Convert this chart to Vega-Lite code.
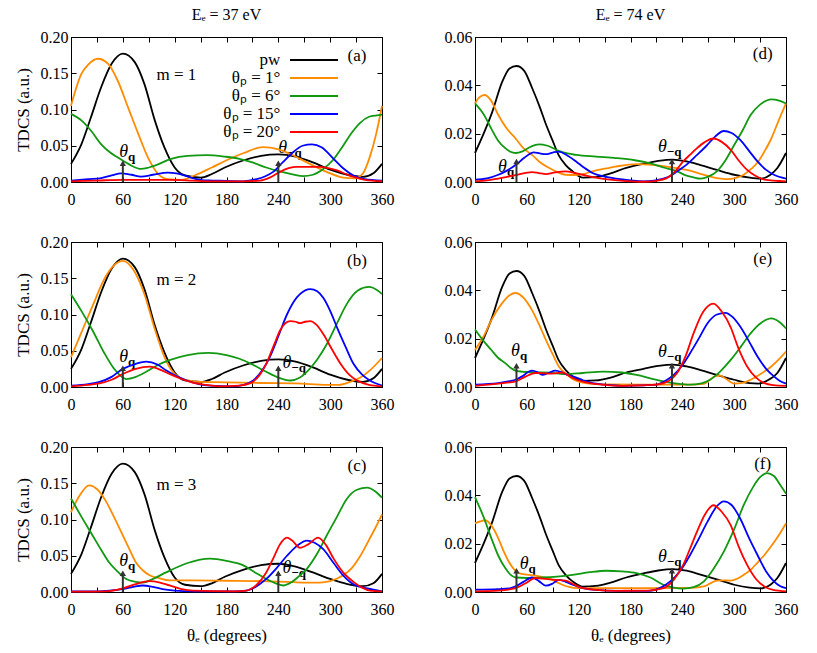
{
  "$schema": "https://vega.github.io/schema/vega-lite/v6.json",
  "padding": {"left": 13, "top": 6, "right": 5, "bottom": 5},
  "background": "white",
  "config": {
    "font": "Liberation Serif, Times New Roman, serif",
    "view": {"stroke": "black", "strokeWidth": 1},
    "axis": {"grid": false, "domainColor": "black", "tickColor": "black", "labelColor": "black", "titleColor": "black", "labelFont": "Liberation Serif, Times New Roman, serif", "titleFont": "Liberation Serif, Times New Roman, serif", "labelFontSize": 16, "titleFontSize": 17, "titleFontWeight": "normal", "tickSize": -5, "labelFlush": false, "labelOverlap": false},
    "axisX": {"labelPadding": 14},
    "axisY": {"labelPadding": 8},
    "legend": {"labelFont": "Liberation Serif, Times New Roman, serif"},
    "title": {"font": "Liberation Serif, Times New Roman, serif", "fontSize": 16, "fontWeight": "normal", "color": "black"},
    "text": {"font": "Liberation Serif, Times New Roman, serif", "color": "black"}
  },
  "datasets": {
    "curves": [
      {"p":"a","s":"pw","x":0,"y":0.025},{"p":"a","s":"pw","x":12,"y":0.052},{"p":"a","s":"pw","x":23,"y":0.089},{"p":"a","s":"pw","x":35,"y":0.131},{"p":"a","s":"pw","x":47,"y":0.163},{"p":"a","s":"pw","x":60,"y":0.177},{"p":"a","s":"pw","x":74,"y":0.165},{"p":"a","s":"pw","x":85,"y":0.135},{"p":"a","s":"pw","x":97,"y":0.085},{"p":"a","s":"pw","x":108,"y":0.048},{"p":"a","s":"pw","x":120,"y":0.02},{"p":"a","s":"pw","x":132,"y":0.009},{"p":"a","s":"pw","x":150,"y":0.006},{"p":"a","s":"pw","x":163,"y":0.011},{"p":"a","s":"pw","x":178,"y":0.02},{"p":"a","s":"pw","x":200,"y":0.03},{"p":"a","s":"pw","x":220,"y":0.036},{"p":"a","s":"pw","x":240,"y":0.038},{"p":"a","s":"pw","x":260,"y":0.035},{"p":"a","s":"pw","x":280,"y":0.027},{"p":"a","s":"pw","x":300,"y":0.017},{"p":"a","s":"pw","x":320,"y":0.01},{"p":"a","s":"pw","x":338,"y":0.007},{"p":"a","s":"pw","x":350,"y":0.012},{"p":"a","s":"pw","x":360,"y":0.025},
      {"p":"a","s":"1","x":0,"y":0.105},{"p":"a","s":"1","x":12,"y":0.149},{"p":"a","s":"1","x":20,"y":0.162},{"p":"a","s":"1","x":31,"y":0.17},{"p":"a","s":"1","x":43,"y":0.163},{"p":"a","s":"1","x":54,"y":0.14},{"p":"a","s":"1","x":66,"y":0.103},{"p":"a","s":"1","x":78,"y":0.066},{"p":"a","s":"1","x":89,"y":0.034},{"p":"a","s":"1","x":101,"y":0.011},{"p":"a","s":"1","x":112,"y":0.004},{"p":"a","s":"1","x":128,"y":0.003},{"p":"a","s":"1","x":143,"y":0.009},{"p":"a","s":"1","x":163,"y":0.02},{"p":"a","s":"1","x":180,"y":0.03},{"p":"a","s":"1","x":200,"y":0.04},{"p":"a","s":"1","x":222,"y":0.048},{"p":"a","s":"1","x":240,"y":0.045},{"p":"a","s":"1","x":255,"y":0.038},{"p":"a","s":"1","x":273,"y":0.027},{"p":"a","s":"1","x":296,"y":0.014},{"p":"a","s":"1","x":315,"y":0.006},{"p":"a","s":"1","x":328,"y":0.005},{"p":"a","s":"1","x":338,"y":0.012},{"p":"a","s":"1","x":346,"y":0.035},{"p":"a","s":"1","x":353,"y":0.065},{"p":"a","s":"1","x":360,"y":0.105},
      {"p":"a","s":"6","x":0,"y":0.094},{"p":"a","s":"6","x":12,"y":0.085},{"p":"a","s":"6","x":23,"y":0.071},{"p":"a","s":"6","x":35,"y":0.052},{"p":"a","s":"6","x":45,"y":0.041},{"p":"a","s":"6","x":54,"y":0.034},{"p":"a","s":"6","x":62,"y":0.028},{"p":"a","s":"6","x":70,"y":0.0225},{"p":"a","s":"6","x":81,"y":0.018},{"p":"a","s":"6","x":90,"y":0.02},{"p":"a","s":"6","x":97,"y":0.0225},{"p":"a","s":"6","x":116,"y":0.032},{"p":"a","s":"6","x":135,"y":0.036},{"p":"a","s":"6","x":157,"y":0.037},{"p":"a","s":"6","x":178,"y":0.035},{"p":"a","s":"6","x":195,"y":0.032},{"p":"a","s":"6","x":210,"y":0.027},{"p":"a","s":"6","x":226,"y":0.02},{"p":"a","s":"6","x":240,"y":0.015},{"p":"a","s":"6","x":255,"y":0.011},{"p":"a","s":"6","x":269,"y":0.008},{"p":"a","s":"6","x":280,"y":0.01},{"p":"a","s":"6","x":292,"y":0.018},{"p":"a","s":"6","x":303,"y":0.03},{"p":"a","s":"6","x":315,"y":0.05},{"p":"a","s":"6","x":325,"y":0.068},{"p":"a","s":"6","x":335,"y":0.082},{"p":"a","s":"6","x":345,"y":0.09},{"p":"a","s":"6","x":354,"y":0.092},{"p":"a","s":"6","x":360,"y":0.093},
      {"p":"a","s":"15","x":0,"y":0.002},{"p":"a","s":"15","x":20,"y":0.004},{"p":"a","s":"15","x":35,"y":0.0055},{"p":"a","s":"15","x":47,"y":0.009},{"p":"a","s":"15","x":58,"y":0.012},{"p":"a","s":"15","x":70,"y":0.01},{"p":"a","s":"15","x":81,"y":0.0074},{"p":"a","s":"15","x":95,"y":0.01},{"p":"a","s":"15","x":112,"y":0.013},{"p":"a","s":"15","x":122,"y":0.012},{"p":"a","s":"15","x":132,"y":0.0087},{"p":"a","s":"15","x":142,"y":0.005},{"p":"a","s":"15","x":151,"y":0.0025},{"p":"a","s":"15","x":164,"y":0.002},{"p":"a","s":"15","x":199,"y":0.001},{"p":"a","s":"15","x":215,"y":0.004},{"p":"a","s":"15","x":225,"y":0.008},{"p":"a","s":"15","x":234,"y":0.014},{"p":"a","s":"15","x":245,"y":0.027},{"p":"a","s":"15","x":257,"y":0.041},{"p":"a","s":"15","x":268,"y":0.05},{"p":"a","s":"15","x":279,"y":0.052},{"p":"a","s":"15","x":290,"y":0.048},{"p":"a","s":"15","x":304,"y":0.032},{"p":"a","s":"15","x":315,"y":0.019},{"p":"a","s":"15","x":327,"y":0.009},{"p":"a","s":"15","x":340,"y":0.004},{"p":"a","s":"15","x":360,"y":0.002},
      {"p":"a","s":"20","x":0,"y":0.001},{"p":"a","s":"20","x":30,"y":0.002},{"p":"a","s":"20","x":60,"y":0.003},{"p":"a","s":"20","x":90,"y":0.003},{"p":"a","s":"20","x":114,"y":0.003},{"p":"a","s":"20","x":140,"y":0.002},{"p":"a","s":"20","x":160,"y":0.001},{"p":"a","s":"20","x":200,"y":0.001},{"p":"a","s":"20","x":219,"y":0.002},{"p":"a","s":"20","x":230,"y":0.006},{"p":"a","s":"20","x":242,"y":0.014},{"p":"a","s":"20","x":252,"y":0.019},{"p":"a","s":"20","x":261,"y":0.021},{"p":"a","s":"20","x":275,"y":0.021},{"p":"a","s":"20","x":288,"y":0.021},{"p":"a","s":"20","x":298,"y":0.019},{"p":"a","s":"20","x":308,"y":0.016},{"p":"a","s":"20","x":318,"y":0.011},{"p":"a","s":"20","x":327,"y":0.007},{"p":"a","s":"20","x":340,"y":0.003},{"p":"a","s":"20","x":360,"y":0.001},

      {"p":"b","s":"pw","x":0,"y":0.025},{"p":"b","s":"pw","x":12,"y":0.052},{"p":"b","s":"pw","x":23,"y":0.089},{"p":"b","s":"pw","x":35,"y":0.131},{"p":"b","s":"pw","x":47,"y":0.163},{"p":"b","s":"pw","x":60,"y":0.177},{"p":"b","s":"pw","x":74,"y":0.165},{"p":"b","s":"pw","x":85,"y":0.135},{"p":"b","s":"pw","x":97,"y":0.085},{"p":"b","s":"pw","x":108,"y":0.048},{"p":"b","s":"pw","x":120,"y":0.02},{"p":"b","s":"pw","x":132,"y":0.009},{"p":"b","s":"pw","x":150,"y":0.007},{"p":"b","s":"pw","x":163,"y":0.011},{"p":"b","s":"pw","x":178,"y":0.02},{"p":"b","s":"pw","x":200,"y":0.03},{"p":"b","s":"pw","x":220,"y":0.036},{"p":"b","s":"pw","x":240,"y":0.038},{"p":"b","s":"pw","x":260,"y":0.035},{"p":"b","s":"pw","x":280,"y":0.027},{"p":"b","s":"pw","x":300,"y":0.017},{"p":"b","s":"pw","x":320,"y":0.01},{"p":"b","s":"pw","x":338,"y":0.007},{"p":"b","s":"pw","x":350,"y":0.012},{"p":"b","s":"pw","x":360,"y":0.025},
      {"p":"b","s":"1","x":0,"y":0.041},{"p":"b","s":"1","x":12,"y":0.075},{"p":"b","s":"1","x":25,"y":0.112},{"p":"b","s":"1","x":40,"y":0.152},{"p":"b","s":"1","x":50,"y":0.168},{"p":"b","s":"1","x":60,"y":0.174},{"p":"b","s":"1","x":72,"y":0.162},{"p":"b","s":"1","x":85,"y":0.128},{"p":"b","s":"1","x":97,"y":0.08},{"p":"b","s":"1","x":108,"y":0.042},{"p":"b","s":"1","x":120,"y":0.018},{"p":"b","s":"1","x":135,"y":0.009},{"p":"b","s":"1","x":150,"y":0.007},{"p":"b","s":"1","x":180,"y":0.0065},{"p":"b","s":"1","x":220,"y":0.0055},{"p":"b","s":"1","x":260,"y":0.005},{"p":"b","s":"1","x":296,"y":0.003},{"p":"b","s":"1","x":310,"y":0.003},{"p":"b","s":"1","x":323,"y":0.007},{"p":"b","s":"1","x":335,"y":0.013},{"p":"b","s":"1","x":346,"y":0.023},{"p":"b","s":"1","x":360,"y":0.04},
      {"p":"b","s":"6","x":0,"y":0.128},{"p":"b","s":"6","x":12,"y":0.105},{"p":"b","s":"6","x":25,"y":0.078},{"p":"b","s":"6","x":38,"y":0.048},{"p":"b","s":"6","x":50,"y":0.025},{"p":"b","s":"6","x":64,"y":0.011},{"p":"b","s":"6","x":75,"y":0.014},{"p":"b","s":"6","x":87,"y":0.021},{"p":"b","s":"6","x":100,"y":0.03},{"p":"b","s":"6","x":114,"y":0.037},{"p":"b","s":"6","x":135,"y":0.044},{"p":"b","s":"6","x":159,"y":0.047},{"p":"b","s":"6","x":180,"y":0.044},{"p":"b","s":"6","x":195,"y":0.039},{"p":"b","s":"6","x":210,"y":0.031},{"p":"b","s":"6","x":226,"y":0.021},{"p":"b","s":"6","x":240,"y":0.013},{"p":"b","s":"6","x":254,"y":0.009},{"p":"b","s":"6","x":265,"y":0.013},{"p":"b","s":"6","x":273,"y":0.021},{"p":"b","s":"6","x":285,"y":0.038},{"p":"b","s":"6","x":296,"y":0.059},{"p":"b","s":"6","x":308,"y":0.088},{"p":"b","s":"6","x":319,"y":0.114},{"p":"b","s":"6","x":332,"y":0.133},{"p":"b","s":"6","x":345,"y":0.138},{"p":"b","s":"6","x":355,"y":0.133},{"p":"b","s":"6","x":360,"y":0.128},
      {"p":"b","s":"15","x":0,"y":0.002},{"p":"b","s":"15","x":20,"y":0.004},{"p":"b","s":"15","x":33,"y":0.007},{"p":"b","s":"15","x":47,"y":0.014},{"p":"b","s":"15","x":60,"y":0.025},{"p":"b","s":"15","x":75,"y":0.032},{"p":"b","s":"15","x":87,"y":0.035},{"p":"b","s":"15","x":100,"y":0.031},{"p":"b","s":"15","x":110,"y":0.023},{"p":"b","s":"15","x":122,"y":0.015},{"p":"b","s":"15","x":134,"y":0.009},{"p":"b","s":"15","x":148,"y":0.004},{"p":"b","s":"15","x":161,"y":0.002},{"p":"b","s":"15","x":188,"y":0.001},{"p":"b","s":"15","x":200,"y":0.003},{"p":"b","s":"15","x":211,"y":0.009},{"p":"b","s":"15","x":222,"y":0.024},{"p":"b","s":"15","x":230,"y":0.041},{"p":"b","s":"15","x":240,"y":0.07},{"p":"b","s":"15","x":250,"y":0.1},{"p":"b","s":"15","x":258,"y":0.118},{"p":"b","s":"15","x":265,"y":0.128},{"p":"b","s":"15","x":277,"y":0.135},{"p":"b","s":"15","x":285,"y":0.132},{"p":"b","s":"15","x":292,"y":0.123},{"p":"b","s":"15","x":300,"y":0.105},{"p":"b","s":"15","x":308,"y":0.082},{"p":"b","s":"15","x":318,"y":0.055},{"p":"b","s":"15","x":327,"y":0.032},{"p":"b","s":"15","x":337,"y":0.017},{"p":"b","s":"15","x":346,"y":0.009},{"p":"b","s":"15","x":360,"y":0.002},
      {"p":"b","s":"20","x":0,"y":0.001},{"p":"b","s":"20","x":20,"y":0.003},{"p":"b","s":"20","x":33,"y":0.005},{"p":"b","s":"20","x":47,"y":0.01},{"p":"b","s":"20","x":60,"y":0.018},{"p":"b","s":"20","x":75,"y":0.025},{"p":"b","s":"20","x":91,"y":0.028},{"p":"b","s":"20","x":103,"y":0.024},{"p":"b","s":"20","x":114,"y":0.018},{"p":"b","s":"20","x":128,"y":0.011},{"p":"b","s":"20","x":141,"y":0.006},{"p":"b","s":"20","x":155,"y":0.003},{"p":"b","s":"20","x":172,"y":0.001},{"p":"b","s":"20","x":195,"y":0.002},{"p":"b","s":"20","x":207,"y":0.005},{"p":"b","s":"20","x":218,"y":0.016},{"p":"b","s":"20","x":226,"y":0.032},{"p":"b","s":"20","x":235,"y":0.058},{"p":"b","s":"20","x":242,"y":0.078},{"p":"b","s":"20","x":248,"y":0.088},{"p":"b","s":"20","x":254,"y":0.091},{"p":"b","s":"20","x":260,"y":0.09},{"p":"b","s":"20","x":265,"y":0.088},{"p":"b","s":"20","x":271,"y":0.09},{"p":"b","s":"20","x":277,"y":0.091},{"p":"b","s":"20","x":284,"y":0.086},{"p":"b","s":"20","x":292,"y":0.073},{"p":"b","s":"20","x":302,"y":0.052},{"p":"b","s":"20","x":312,"y":0.032},{"p":"b","s":"20","x":322,"y":0.017},{"p":"b","s":"20","x":331,"y":0.009},{"p":"b","s":"20","x":345,"y":0.003},{"p":"b","s":"20","x":360,"y":0.001},

      {"p":"c","s":"pw","x":0,"y":0.025},{"p":"c","s":"pw","x":12,"y":0.052},{"p":"c","s":"pw","x":23,"y":0.089},{"p":"c","s":"pw","x":35,"y":0.131},{"p":"c","s":"pw","x":47,"y":0.163},{"p":"c","s":"pw","x":60,"y":0.177},{"p":"c","s":"pw","x":74,"y":0.165},{"p":"c","s":"pw","x":85,"y":0.135},{"p":"c","s":"pw","x":97,"y":0.085},{"p":"c","s":"pw","x":108,"y":0.048},{"p":"c","s":"pw","x":120,"y":0.02},{"p":"c","s":"pw","x":132,"y":0.01},{"p":"c","s":"pw","x":150,"y":0.008},{"p":"c","s":"pw","x":163,"y":0.012},{"p":"c","s":"pw","x":178,"y":0.021},{"p":"c","s":"pw","x":200,"y":0.031},{"p":"c","s":"pw","x":220,"y":0.037},{"p":"c","s":"pw","x":240,"y":0.039},{"p":"c","s":"pw","x":260,"y":0.035},{"p":"c","s":"pw","x":280,"y":0.027},{"p":"c","s":"pw","x":300,"y":0.018},{"p":"c","s":"pw","x":320,"y":0.011},{"p":"c","s":"pw","x":338,"y":0.008},{"p":"c","s":"pw","x":350,"y":0.012},{"p":"c","s":"pw","x":360,"y":0.025},
      {"p":"c","s":"1","x":0,"y":0.11},{"p":"c","s":"1","x":10,"y":0.133},{"p":"c","s":"1","x":21,"y":0.147},{"p":"c","s":"1","x":30,"y":0.142},{"p":"c","s":"1","x":40,"y":0.126},{"p":"c","s":"1","x":50,"y":0.103},{"p":"c","s":"1","x":60,"y":0.078},{"p":"c","s":"1","x":68,"y":0.058},{"p":"c","s":"1","x":75,"y":0.041},{"p":"c","s":"1","x":83,"y":0.03},{"p":"c","s":"1","x":91,"y":0.023},{"p":"c","s":"1","x":102,"y":0.019},{"p":"c","s":"1","x":114,"y":0.016},{"p":"c","s":"1","x":140,"y":0.016},{"p":"c","s":"1","x":180,"y":0.0155},{"p":"c","s":"1","x":220,"y":0.015},{"p":"c","s":"1","x":250,"y":0.014},{"p":"c","s":"1","x":270,"y":0.013},{"p":"c","s":"1","x":288,"y":0.013},{"p":"c","s":"1","x":300,"y":0.015},{"p":"c","s":"1","x":315,"y":0.023},{"p":"c","s":"1","x":325,"y":0.033},{"p":"c","s":"1","x":335,"y":0.05},{"p":"c","s":"1","x":345,"y":0.072},{"p":"c","s":"1","x":353,"y":0.09},{"p":"c","s":"1","x":360,"y":0.107},
      {"p":"c","s":"6","x":0,"y":0.129},{"p":"c","s":"6","x":12,"y":0.104},{"p":"c","s":"6","x":25,"y":0.078},{"p":"c","s":"6","x":35,"y":0.058},{"p":"c","s":"6","x":44,"y":0.041},{"p":"c","s":"6","x":55,"y":0.027},{"p":"c","s":"6","x":64,"y":0.018},{"p":"c","s":"6","x":75,"y":0.014},{"p":"c","s":"6","x":83,"y":0.013},{"p":"c","s":"6","x":95,"y":0.018},{"p":"c","s":"6","x":110,"y":0.027},{"p":"c","s":"6","x":135,"y":0.04},{"p":"c","s":"6","x":161,"y":0.046},{"p":"c","s":"6","x":180,"y":0.043},{"p":"c","s":"6","x":199,"y":0.037},{"p":"c","s":"6","x":213,"y":0.027},{"p":"c","s":"6","x":226,"y":0.018},{"p":"c","s":"6","x":237,"y":0.012},{"p":"c","s":"6","x":246,"y":0.009},{"p":"c","s":"6","x":256,"y":0.014},{"p":"c","s":"6","x":264,"y":0.022},{"p":"c","s":"6","x":273,"y":0.032},{"p":"c","s":"6","x":285,"y":0.053},{"p":"c","s":"6","x":296,"y":0.078},{"p":"c","s":"6","x":308,"y":0.104},{"p":"c","s":"6","x":319,"y":0.128},{"p":"c","s":"6","x":331,"y":0.141},{"p":"c","s":"6","x":343,"y":0.144},{"p":"c","s":"6","x":352,"y":0.139},{"p":"c","s":"6","x":360,"y":0.13},
      {"p":"c","s":"15","x":0,"y":0.001},{"p":"c","s":"15","x":30,"y":0.001},{"p":"c","s":"15","x":45,"y":0.002},{"p":"c","s":"15","x":60,"y":0.004},{"p":"c","s":"15","x":72,"y":0.007},{"p":"c","s":"15","x":83,"y":0.009},{"p":"c","s":"15","x":95,"y":0.007},{"p":"c","s":"15","x":106,"y":0.004},{"p":"c","s":"15","x":120,"y":0.002},{"p":"c","s":"15","x":141,"y":0.001},{"p":"c","s":"15","x":190,"y":0.001},{"p":"c","s":"15","x":203,"y":0.002},{"p":"c","s":"15","x":215,"y":0.008},{"p":"c","s":"15","x":226,"y":0.018},{"p":"c","s":"15","x":238,"y":0.033},{"p":"c","s":"15","x":250,"y":0.05},{"p":"c","s":"15","x":262,"y":0.064},{"p":"c","s":"15","x":273,"y":0.071},{"p":"c","s":"15","x":282,"y":0.068},{"p":"c","s":"15","x":292,"y":0.059},{"p":"c","s":"15","x":304,"y":0.04},{"p":"c","s":"15","x":315,"y":0.023},{"p":"c","s":"15","x":328,"y":0.01},{"p":"c","s":"15","x":343,"y":0.005},{"p":"c","s":"15","x":360,"y":0.001},
      {"p":"c","s":"20","x":0,"y":0.0005},{"p":"c","s":"20","x":40,"y":0.001},{"p":"c","s":"20","x":60,"y":0.005},{"p":"c","s":"20","x":75,"y":0.011},{"p":"c","s":"20","x":91,"y":0.015},{"p":"c","s":"20","x":103,"y":0.013},{"p":"c","s":"20","x":114,"y":0.009},{"p":"c","s":"20","x":128,"y":0.004},{"p":"c","s":"20","x":141,"y":0.002},{"p":"c","s":"20","x":190,"y":0.001},{"p":"c","s":"20","x":203,"y":0.002},{"p":"c","s":"20","x":215,"y":0.01},{"p":"c","s":"20","x":226,"y":0.027},{"p":"c","s":"20","x":234,"y":0.046},{"p":"c","s":"20","x":242,"y":0.066},{"p":"c","s":"20","x":250,"y":0.075},{"p":"c","s":"20","x":256,"y":0.071},{"p":"c","s":"20","x":265,"y":0.061},{"p":"c","s":"20","x":275,"y":0.066},{"p":"c","s":"20","x":286,"y":0.075},{"p":"c","s":"20","x":295,"y":0.065},{"p":"c","s":"20","x":304,"y":0.046},{"p":"c","s":"20","x":315,"y":0.027},{"p":"c","s":"20","x":327,"y":0.014},{"p":"c","s":"20","x":337,"y":0.006},{"p":"c","s":"20","x":346,"y":0.002},{"p":"c","s":"20","x":360,"y":0.001},

      {"p":"d","s":"pw","x":0,"y":0.012},{"p":"d","s":"pw","x":10,"y":0.02},{"p":"d","s":"pw","x":20,"y":0.029},{"p":"d","s":"pw","x":31,"y":0.041},{"p":"d","s":"pw","x":40,"y":0.047},{"p":"d","s":"pw","x":48,"y":0.048},{"p":"d","s":"pw","x":57,"y":0.046},{"p":"d","s":"pw","x":66,"y":0.039},{"p":"d","s":"pw","x":75,"y":0.031},{"p":"d","s":"pw","x":82,"y":0.024},{"p":"d","s":"pw","x":90,"y":0.017},{"p":"d","s":"pw","x":97,"y":0.011},{"p":"d","s":"pw","x":105,"y":0.007},{"p":"d","s":"pw","x":113,"y":0.0044},{"p":"d","s":"pw","x":125,"y":0.0018},{"p":"d","s":"pw","x":140,"y":0.002},{"p":"d","s":"pw","x":156,"y":0.0035},{"p":"d","s":"pw","x":175,"y":0.0058},{"p":"d","s":"pw","x":195,"y":0.0075},{"p":"d","s":"pw","x":212,"y":0.0087},{"p":"d","s":"pw","x":229,"y":0.0093},{"p":"d","s":"pw","x":245,"y":0.0085},{"p":"d","s":"pw","x":261,"y":0.007},{"p":"d","s":"pw","x":280,"y":0.005},{"p":"d","s":"pw","x":300,"y":0.003},{"p":"d","s":"pw","x":318,"y":0.0018},{"p":"d","s":"pw","x":331,"y":0.0014},{"p":"d","s":"pw","x":342,"y":0.003},{"p":"d","s":"pw","x":350,"y":0.0058},{"p":"d","s":"pw","x":360,"y":0.012},
      {"p":"d","s":"1","x":0,"y":0.0325},{"p":"d","s":"1","x":5,"y":0.035},{"p":"d","s":"1","x":11,"y":0.036},{"p":"d","s":"1","x":18,"y":0.034},{"p":"d","s":"1","x":27,"y":0.0277},{"p":"d","s":"1","x":37,"y":0.022},{"p":"d","s":"1","x":47,"y":0.018},{"p":"d","s":"1","x":56,"y":0.014},{"p":"d","s":"1","x":66,"y":0.0112},{"p":"d","s":"1","x":76,"y":0.008},{"p":"d","s":"1","x":86,"y":0.0058},{"p":"d","s":"1","x":96,"y":0.004},{"p":"d","s":"1","x":105,"y":0.003},{"p":"d","s":"1","x":115,"y":0.0029},{"p":"d","s":"1","x":125,"y":0.0033},{"p":"d","s":"1","x":136,"y":0.0044},{"p":"d","s":"1","x":150,"y":0.0055},{"p":"d","s":"1","x":163,"y":0.0064},{"p":"d","s":"1","x":187,"y":0.0074},{"p":"d","s":"1","x":205,"y":0.0071},{"p":"d","s":"1","x":222,"y":0.0064},{"p":"d","s":"1","x":235,"y":0.0056},{"p":"d","s":"1","x":249,"y":0.0047},{"p":"d","s":"1","x":260,"y":0.0035},{"p":"d","s":"1","x":272,"y":0.0023},{"p":"d","s":"1","x":282,"y":0.0015},{"p":"d","s":"1","x":292,"y":0.0012},{"p":"d","s":"1","x":302,"y":0.0017},{"p":"d","s":"1","x":311,"y":0.003},{"p":"d","s":"1","x":320,"y":0.0055},{"p":"d","s":"1","x":328,"y":0.0085},{"p":"d","s":"1","x":335,"y":0.0126},{"p":"d","s":"1","x":343,"y":0.018},{"p":"d","s":"1","x":351,"y":0.025},{"p":"d","s":"1","x":360,"y":0.0325},
      {"p":"d","s":"6","x":0,"y":0.0325},{"p":"d","s":"6","x":10,"y":0.028},{"p":"d","s":"6","x":19,"y":0.022},{"p":"d","s":"6","x":27,"y":0.017},{"p":"d","s":"6","x":35,"y":0.014},{"p":"d","s":"6","x":41,"y":0.0125},{"p":"d","s":"6","x":47,"y":0.012},{"p":"d","s":"6","x":55,"y":0.0127},{"p":"d","s":"6","x":64,"y":0.0145},{"p":"d","s":"6","x":74,"y":0.0156},{"p":"d","s":"6","x":84,"y":0.015},{"p":"d","s":"6","x":97,"y":0.0129},{"p":"d","s":"6","x":107,"y":0.0118},{"p":"d","s":"6","x":117,"y":0.0112},{"p":"d","s":"6","x":140,"y":0.0105},{"p":"d","s":"6","x":163,"y":0.0099},{"p":"d","s":"6","x":185,"y":0.009},{"p":"d","s":"6","x":202,"y":0.0078},{"p":"d","s":"6","x":218,"y":0.006},{"p":"d","s":"6","x":234,"y":0.0044},{"p":"d","s":"6","x":245,"y":0.0026},{"p":"d","s":"6","x":253,"y":0.0019},{"p":"d","s":"6","x":261,"y":0.0014},{"p":"d","s":"6","x":270,"y":0.0022},{"p":"d","s":"6","x":280,"y":0.0044},{"p":"d","s":"6","x":290,"y":0.009},{"p":"d","s":"6","x":300,"y":0.0153},{"p":"d","s":"6","x":310,"y":0.0215},{"p":"d","s":"6","x":319,"y":0.0277},{"p":"d","s":"6","x":330,"y":0.032},{"p":"d","s":"6","x":343,"y":0.0342},{"p":"d","s":"6","x":352,"y":0.0337},{"p":"d","s":"6","x":360,"y":0.0325},
      {"p":"d","s":"15","x":0,"y":0.001},{"p":"d","s":"15","x":14,"y":0.0015},{"p":"d","s":"15","x":27,"y":0.003},{"p":"d","s":"15","x":37,"y":0.0047},{"p":"d","s":"15","x":47,"y":0.007},{"p":"d","s":"15","x":57,"y":0.01},{"p":"d","s":"15","x":68,"y":0.0123},{"p":"d","s":"15","x":75,"y":0.0118},{"p":"d","s":"15","x":82,"y":0.0115},{"p":"d","s":"15","x":90,"y":0.0122},{"p":"d","s":"15","x":97,"y":0.0126},{"p":"d","s":"15","x":106,"y":0.0112},{"p":"d","s":"15","x":117,"y":0.0085},{"p":"d","s":"15","x":126,"y":0.006},{"p":"d","s":"15","x":136,"y":0.0037},{"p":"d","s":"15","x":150,"y":0.0022},{"p":"d","s":"15","x":163,"y":0.0014},{"p":"d","s":"15","x":180,"y":0.0007},{"p":"d","s":"15","x":195,"y":0.0003},{"p":"d","s":"15","x":207,"y":0.0006},{"p":"d","s":"15","x":218,"y":0.0014},{"p":"d","s":"15","x":226,"y":0.0025},{"p":"d","s":"15","x":234,"y":0.0044},{"p":"d","s":"15","x":245,"y":0.0072},{"p":"d","s":"15","x":257,"y":0.0112},{"p":"d","s":"15","x":268,"y":0.015},{"p":"d","s":"15","x":278,"y":0.0188},{"p":"d","s":"15","x":288,"y":0.0211},{"p":"d","s":"15","x":297,"y":0.0203},{"p":"d","s":"15","x":307,"y":0.0174},{"p":"d","s":"15","x":317,"y":0.013},{"p":"d","s":"15","x":327,"y":0.0085},{"p":"d","s":"15","x":337,"y":0.005},{"p":"d","s":"15","x":346,"y":0.003},{"p":"d","s":"15","x":360,"y":0.0014},
      {"p":"d","s":"20","x":0,"y":0.0003},{"p":"d","s":"20","x":14,"y":0.0007},{"p":"d","s":"20","x":27,"y":0.0014},{"p":"d","s":"20","x":47,"y":0.0028},{"p":"d","s":"20","x":66,"y":0.0041},{"p":"d","s":"20","x":74,"y":0.0037},{"p":"d","s":"20","x":82,"y":0.0033},{"p":"d","s":"20","x":93,"y":0.004},{"p":"d","s":"20","x":105,"y":0.0044},{"p":"d","s":"20","x":115,"y":0.0038},{"p":"d","s":"20","x":125,"y":0.003},{"p":"d","s":"20","x":140,"y":0.0018},{"p":"d","s":"20","x":156,"y":0.001},{"p":"d","s":"20","x":175,"y":0.0004},{"p":"d","s":"20","x":195,"y":0.0001},{"p":"d","s":"20","x":210,"y":0.0005},{"p":"d","s":"20","x":222,"y":0.0016},{"p":"d","s":"20","x":232,"y":0.0045},{"p":"d","s":"20","x":241,"y":0.0085},{"p":"d","s":"20","x":249,"y":0.0113},{"p":"d","s":"20","x":257,"y":0.014},{"p":"d","s":"20","x":266,"y":0.0165},{"p":"d","s":"20","x":276,"y":0.018},{"p":"d","s":"20","x":286,"y":0.0165},{"p":"d","s":"20","x":296,"y":0.0133},{"p":"d","s":"20","x":305,"y":0.009},{"p":"d","s":"20","x":315,"y":0.005},{"p":"d","s":"20","x":325,"y":0.0025},{"p":"d","s":"20","x":335,"y":0.001},{"p":"d","s":"20","x":360,"y":0.0003},

      {"p":"e","s":"pw","x":0,"y":0.012},{"p":"e","s":"pw","x":10,"y":0.02},{"p":"e","s":"pw","x":20,"y":0.029},{"p":"e","s":"pw","x":31,"y":0.041},{"p":"e","s":"pw","x":40,"y":0.047},{"p":"e","s":"pw","x":48,"y":0.048},{"p":"e","s":"pw","x":57,"y":0.046},{"p":"e","s":"pw","x":66,"y":0.039},{"p":"e","s":"pw","x":75,"y":0.031},{"p":"e","s":"pw","x":82,"y":0.024},{"p":"e","s":"pw","x":90,"y":0.017},{"p":"e","s":"pw","x":97,"y":0.011},{"p":"e","s":"pw","x":105,"y":0.007},{"p":"e","s":"pw","x":113,"y":0.0044},{"p":"e","s":"pw","x":125,"y":0.0025},{"p":"e","s":"pw","x":140,"y":0.0027},{"p":"e","s":"pw","x":156,"y":0.0038},{"p":"e","s":"pw","x":175,"y":0.006},{"p":"e","s":"pw","x":195,"y":0.0075},{"p":"e","s":"pw","x":212,"y":0.0087},{"p":"e","s":"pw","x":229,"y":0.0093},{"p":"e","s":"pw","x":245,"y":0.0085},{"p":"e","s":"pw","x":261,"y":0.007},{"p":"e","s":"pw","x":280,"y":0.005},{"p":"e","s":"pw","x":300,"y":0.003},{"p":"e","s":"pw","x":318,"y":0.0016},{"p":"e","s":"pw","x":328,"y":0.0014},{"p":"e","s":"pw","x":340,"y":0.003},{"p":"e","s":"pw","x":350,"y":0.0058},{"p":"e","s":"pw","x":360,"y":0.012},
      {"p":"e","s":"1","x":0,"y":0.0153},{"p":"e","s":"1","x":10,"y":0.021},{"p":"e","s":"1","x":19,"y":0.0277},{"p":"e","s":"1","x":31,"y":0.0345},{"p":"e","s":"1","x":40,"y":0.038},{"p":"e","s":"1","x":47,"y":0.0389},{"p":"e","s":"1","x":56,"y":0.037},{"p":"e","s":"1","x":66,"y":0.0318},{"p":"e","s":"1","x":74,"y":0.026},{"p":"e","s":"1","x":82,"y":0.0195},{"p":"e","s":"1","x":90,"y":0.0135},{"p":"e","s":"1","x":97,"y":0.0085},{"p":"e","s":"1","x":105,"y":0.0055},{"p":"e","s":"1","x":113,"y":0.0033},{"p":"e","s":"1","x":122,"y":0.002},{"p":"e","s":"1","x":132,"y":0.0014},{"p":"e","s":"1","x":150,"y":0.0011},{"p":"e","s":"1","x":200,"y":0.001},{"p":"e","s":"1","x":250,"y":0.001},{"p":"e","s":"1","x":265,"y":0.0013},{"p":"e","s":"1","x":272,"y":0.003},{"p":"e","s":"1","x":278,"y":0.0045},{"p":"e","s":"1","x":284,"y":0.0047},{"p":"e","s":"1","x":290,"y":0.0035},{"p":"e","s":"1","x":300,"y":0.0014},{"p":"e","s":"1","x":310,"y":0.0017},{"p":"e","s":"1","x":319,"y":0.003},{"p":"e","s":"1","x":331,"y":0.0055},{"p":"e","s":"1","x":343,"y":0.0085},{"p":"e","s":"1","x":352,"y":0.0115},{"p":"e","s":"1","x":360,"y":0.0147},
      {"p":"e","s":"6","x":0,"y":0.0238},{"p":"e","s":"6","x":10,"y":0.019},{"p":"e","s":"6","x":19,"y":0.0153},{"p":"e","s":"6","x":27,"y":0.012},{"p":"e","s":"6","x":35,"y":0.0099},{"p":"e","s":"6","x":41,"y":0.008},{"p":"e","s":"6","x":47,"y":0.0068},{"p":"e","s":"6","x":60,"y":0.0062},{"p":"e","s":"6","x":78,"y":0.006},{"p":"e","s":"6","x":92,"y":0.0057},{"p":"e","s":"6","x":105,"y":0.0053},{"p":"e","s":"6","x":125,"y":0.0058},{"p":"e","s":"6","x":148,"y":0.0064},{"p":"e","s":"6","x":170,"y":0.006},{"p":"e","s":"6","x":187,"y":0.005},{"p":"e","s":"6","x":203,"y":0.0036},{"p":"e","s":"6","x":218,"y":0.0023},{"p":"e","s":"6","x":234,"y":0.0014},{"p":"e","s":"6","x":249,"y":0.001},{"p":"e","s":"6","x":262,"y":0.0015},{"p":"e","s":"6","x":272,"y":0.003},{"p":"e","s":"6","x":284,"y":0.0065},{"p":"e","s":"6","x":296,"y":0.0112},{"p":"e","s":"6","x":308,"y":0.0168},{"p":"e","s":"6","x":319,"y":0.0222},{"p":"e","s":"6","x":331,"y":0.0265},{"p":"e","s":"6","x":343,"y":0.0284},{"p":"e","s":"6","x":352,"y":0.027},{"p":"e","s":"6","x":360,"y":0.0242},
      {"p":"e","s":"15","x":0,"y":0.001},{"p":"e","s":"15","x":27,"y":0.0016},{"p":"e","s":"15","x":40,"y":0.0024},{"p":"e","s":"15","x":47,"y":0.003},{"p":"e","s":"15","x":55,"y":0.0045},{"p":"e","s":"15","x":62,"y":0.0063},{"p":"e","s":"15","x":66,"y":0.0068},{"p":"e","s":"15","x":72,"y":0.0062},{"p":"e","s":"15","x":78,"y":0.005},{"p":"e","s":"15","x":85,"y":0.0058},{"p":"e","s":"15","x":93,"y":0.0068},{"p":"e","s":"15","x":100,"y":0.0062},{"p":"e","s":"15","x":107,"y":0.005},{"p":"e","s":"15","x":113,"y":0.0044},{"p":"e","s":"15","x":125,"y":0.0028},{"p":"e","s":"15","x":136,"y":0.0016},{"p":"e","s":"15","x":150,"y":0.001},{"p":"e","s":"15","x":171,"y":0.0005},{"p":"e","s":"15","x":195,"y":0.0007},{"p":"e","s":"15","x":210,"y":0.001},{"p":"e","s":"15","x":220,"y":0.0025},{"p":"e","s":"15","x":230,"y":0.005},{"p":"e","s":"15","x":240,"y":0.009},{"p":"e","s":"15","x":249,"y":0.014},{"p":"e","s":"15","x":259,"y":0.02},{"p":"e","s":"15","x":269,"y":0.0263},{"p":"e","s":"15","x":280,"y":0.03},{"p":"e","s":"15","x":290,"y":0.0307},{"p":"e","s":"15","x":298,"y":0.029},{"p":"e","s":"15","x":307,"y":0.025},{"p":"e","s":"15","x":317,"y":0.019},{"p":"e","s":"15","x":327,"y":0.0126},{"p":"e","s":"15","x":337,"y":0.0075},{"p":"e","s":"15","x":346,"y":0.0044},{"p":"e","s":"15","x":353,"y":0.0025},{"p":"e","s":"15","x":360,"y":0.0014},
      {"p":"e","s":"20","x":0,"y":0.0005},{"p":"e","s":"20","x":27,"y":0.0014},{"p":"e","s":"20","x":47,"y":0.0023},{"p":"e","s":"20","x":58,"y":0.0042},{"p":"e","s":"20","x":70,"y":0.0058},{"p":"e","s":"20","x":78,"y":0.0057},{"p":"e","s":"20","x":86,"y":0.0055},{"p":"e","s":"20","x":94,"y":0.0057},{"p":"e","s":"20","x":101,"y":0.006},{"p":"e","s":"20","x":107,"y":0.005},{"p":"e","s":"20","x":113,"y":0.0037},{"p":"e","s":"20","x":125,"y":0.0022},{"p":"e","s":"20","x":136,"y":0.0014},{"p":"e","s":"20","x":150,"y":0.0009},{"p":"e","s":"20","x":171,"y":0.0005},{"p":"e","s":"20","x":195,"y":0.0007},{"p":"e","s":"20","x":210,"y":0.001},{"p":"e","s":"20","x":224,"y":0.0025},{"p":"e","s":"20","x":234,"y":0.0058},{"p":"e","s":"20","x":244,"y":0.013},{"p":"e","s":"20","x":253,"y":0.0222},{"p":"e","s":"20","x":264,"y":0.031},{"p":"e","s":"20","x":276,"y":0.0345},{"p":"e","s":"20","x":286,"y":0.031},{"p":"e","s":"20","x":296,"y":0.0247},{"p":"e","s":"20","x":305,"y":0.016},{"p":"e","s":"20","x":315,"y":0.0085},{"p":"e","s":"20","x":325,"y":0.004},{"p":"e","s":"20","x":335,"y":0.0016},{"p":"e","s":"20","x":345,"y":0.0008},{"p":"e","s":"20","x":360,"y":0.0005},

      {"p":"f","s":"pw","x":0,"y":0.012},{"p":"f","s":"pw","x":10,"y":0.02},{"p":"f","s":"pw","x":20,"y":0.029},{"p":"f","s":"pw","x":31,"y":0.041},{"p":"f","s":"pw","x":40,"y":0.047},{"p":"f","s":"pw","x":48,"y":0.048},{"p":"f","s":"pw","x":57,"y":0.046},{"p":"f","s":"pw","x":66,"y":0.039},{"p":"f","s":"pw","x":75,"y":0.031},{"p":"f","s":"pw","x":82,"y":0.024},{"p":"f","s":"pw","x":90,"y":0.017},{"p":"f","s":"pw","x":97,"y":0.011},{"p":"f","s":"pw","x":105,"y":0.007},{"p":"f","s":"pw","x":113,"y":0.0044},{"p":"f","s":"pw","x":125,"y":0.0022},{"p":"f","s":"pw","x":140,"y":0.0025},{"p":"f","s":"pw","x":156,"y":0.0038},{"p":"f","s":"pw","x":175,"y":0.006},{"p":"f","s":"pw","x":195,"y":0.0077},{"p":"f","s":"pw","x":212,"y":0.0089},{"p":"f","s":"pw","x":229,"y":0.0095},{"p":"f","s":"pw","x":245,"y":0.0088},{"p":"f","s":"pw","x":261,"y":0.0072},{"p":"f","s":"pw","x":280,"y":0.0052},{"p":"f","s":"pw","x":300,"y":0.003},{"p":"f","s":"pw","x":318,"y":0.0018},{"p":"f","s":"pw","x":331,"y":0.0015},{"p":"f","s":"pw","x":342,"y":0.003},{"p":"f","s":"pw","x":350,"y":0.0058},{"p":"f","s":"pw","x":360,"y":0.012},
      {"p":"f","s":"1","x":0,"y":0.0284},{"p":"f","s":"1","x":6,"y":0.0292},{"p":"f","s":"1","x":12,"y":0.0297},{"p":"f","s":"1","x":20,"y":0.027},{"p":"f","s":"1","x":27,"y":0.0222},{"p":"f","s":"1","x":33,"y":0.017},{"p":"f","s":"1","x":39,"y":0.0126},{"p":"f","s":"1","x":45,"y":0.0095},{"p":"f","s":"1","x":51,"y":0.0078},{"p":"f","s":"1","x":60,"y":0.0072},{"p":"f","s":"1","x":70,"y":0.0068},{"p":"f","s":"1","x":78,"y":0.0062},{"p":"f","s":"1","x":86,"y":0.0055},{"p":"f","s":"1","x":94,"y":0.0042},{"p":"f","s":"1","x":101,"y":0.003},{"p":"f","s":"1","x":109,"y":0.0021},{"p":"f","s":"1","x":117,"y":0.0016},{"p":"f","s":"1","x":150,"y":0.0016},{"p":"f","s":"1","x":200,"y":0.0016},{"p":"f","s":"1","x":250,"y":0.0017},{"p":"f","s":"1","x":265,"y":0.0023},{"p":"f","s":"1","x":272,"y":0.0035},{"p":"f","s":"1","x":280,"y":0.0047},{"p":"f","s":"1","x":288,"y":0.0048},{"p":"f","s":"1","x":296,"y":0.0047},{"p":"f","s":"1","x":304,"y":0.0056},{"p":"f","s":"1","x":311,"y":0.0071},{"p":"f","s":"1","x":320,"y":0.0095},{"p":"f","s":"1","x":327,"y":0.0122},{"p":"f","s":"1","x":335,"y":0.0153},{"p":"f","s":"1","x":343,"y":0.019},{"p":"f","s":"1","x":352,"y":0.0237},{"p":"f","s":"1","x":360,"y":0.0284},
      {"p":"f","s":"6","x":0,"y":0.0393},{"p":"f","s":"6","x":10,"y":0.031},{"p":"f","s":"6","x":19,"y":0.0222},{"p":"f","s":"6","x":27,"y":0.015},{"p":"f","s":"6","x":35,"y":0.0099},{"p":"f","s":"6","x":41,"y":0.0072},{"p":"f","s":"6","x":47,"y":0.006},{"p":"f","s":"6","x":60,"y":0.0058},{"p":"f","s":"6","x":78,"y":0.006},{"p":"f","s":"6","x":95,"y":0.0064},{"p":"f","s":"6","x":113,"y":0.0071},{"p":"f","s":"6","x":133,"y":0.0082},{"p":"f","s":"6","x":152,"y":0.0088},{"p":"f","s":"6","x":170,"y":0.0085},{"p":"f","s":"6","x":187,"y":0.0078},{"p":"f","s":"6","x":203,"y":0.006},{"p":"f","s":"6","x":218,"y":0.003},{"p":"f","s":"6","x":230,"y":0.0018},{"p":"f","s":"6","x":241,"y":0.0014},{"p":"f","s":"6","x":253,"y":0.002},{"p":"f","s":"6","x":265,"y":0.0044},{"p":"f","s":"6","x":276,"y":0.0095},{"p":"f","s":"6","x":288,"y":0.0167},{"p":"f","s":"6","x":300,"y":0.026},{"p":"f","s":"6","x":311,"y":0.0359},{"p":"f","s":"6","x":322,"y":0.0435},{"p":"f","s":"6","x":330,"y":0.0475},{"p":"f","s":"6","x":338,"y":0.0492},{"p":"f","s":"6","x":346,"y":0.048},{"p":"f","s":"6","x":353,"y":0.0445},{"p":"f","s":"6","x":360,"y":0.0407},
      {"p":"f","s":"15","x":0,"y":0.001},{"p":"f","s":"15","x":27,"y":0.0012},{"p":"f","s":"15","x":40,"y":0.0015},{"p":"f","s":"15","x":47,"y":0.0023},{"p":"f","s":"15","x":56,"y":0.0042},{"p":"f","s":"15","x":66,"y":0.006},{"p":"f","s":"15","x":74,"y":0.0045},{"p":"f","s":"15","x":82,"y":0.0026},{"p":"f","s":"15","x":90,"y":0.0035},{"p":"f","s":"15","x":97,"y":0.005},{"p":"f","s":"15","x":105,"y":0.0042},{"p":"f","s":"15","x":113,"y":0.003},{"p":"f","s":"15","x":125,"y":0.0016},{"p":"f","s":"15","x":136,"y":0.001},{"p":"f","s":"15","x":170,"y":0.0005},{"p":"f","s":"15","x":202,"y":0.0005},{"p":"f","s":"15","x":215,"y":0.0018},{"p":"f","s":"15","x":226,"y":0.0044},{"p":"f","s":"15","x":238,"y":0.009},{"p":"f","s":"15","x":249,"y":0.0153},{"p":"f","s":"15","x":259,"y":0.022},{"p":"f","s":"15","x":269,"y":0.029},{"p":"f","s":"15","x":280,"y":0.0355},{"p":"f","s":"15","x":288,"y":0.0375},{"p":"f","s":"15","x":297,"y":0.036},{"p":"f","s":"15","x":307,"y":0.0304},{"p":"f","s":"15","x":317,"y":0.0225},{"p":"f","s":"15","x":327,"y":0.0153},{"p":"f","s":"15","x":337,"y":0.0085},{"p":"f","s":"15","x":346,"y":0.0044},{"p":"f","s":"15","x":353,"y":0.0025},{"p":"f","s":"15","x":360,"y":0.0016},
      {"p":"f","s":"20","x":0,"y":0.0003},{"p":"f","s":"20","x":27,"y":0.0006},{"p":"f","s":"20","x":47,"y":0.0016},{"p":"f","s":"20","x":58,"y":0.0035},{"p":"f","s":"20","x":70,"y":0.0058},{"p":"f","s":"20","x":82,"y":0.0054},{"p":"f","s":"20","x":93,"y":0.005},{"p":"f","s":"20","x":105,"y":0.0047},{"p":"f","s":"20","x":115,"y":0.003},{"p":"f","s":"20","x":125,"y":0.0016},{"p":"f","s":"20","x":140,"y":0.0009},{"p":"f","s":"20","x":163,"y":0.0005},{"p":"f","s":"20","x":200,"y":0.0006},{"p":"f","s":"20","x":218,"y":0.0016},{"p":"f","s":"20","x":230,"y":0.005},{"p":"f","s":"20","x":241,"y":0.0112},{"p":"f","s":"20","x":249,"y":0.018},{"p":"f","s":"20","x":257,"y":0.025},{"p":"f","s":"20","x":266,"y":0.032},{"p":"f","s":"20","x":276,"y":0.0359},{"p":"f","s":"20","x":286,"y":0.033},{"p":"f","s":"20","x":296,"y":0.0277},{"p":"f","s":"20","x":305,"y":0.019},{"p":"f","s":"20","x":315,"y":0.0112},{"p":"f","s":"20","x":325,"y":0.0055},{"p":"f","s":"20","x":335,"y":0.0023},{"p":"f","s":"20","x":345,"y":0.0009},{"p":"f","s":"20","x":360,"y":0.0003}
    ],
    "arrows": [
      {"p":"a","x":60,"y":0.026},{"p":"a","x":240,"y":0.026},
      {"p":"b","x":60,"y":0.026},{"p":"b","x":240,"y":0.026},
      {"p":"c","x":60,"y":0.026},{"p":"c","x":240,"y":0.026},
      {"p":"d","x":48,"y":0.0085},{"p":"d","x":228,"y":0.0085},
      {"p":"e","x":48,"y":0.0088},{"p":"e","x":228,"y":0.0088},
      {"p":"f","x":48,"y":0.0088},{"p":"f","x":228,"y":0.0088}
    ],
    "notes": [
      {"p":"a","x":66,"y":0.041,"sub":"q"},{"p":"a","x":250,"y":0.047,"sub":"−q"},
      {"p":"b","x":66,"y":0.042,"sub":"q"},{"p":"b","x":255,"y":0.033,"sub":"−q"},
      {"p":"c","x":66,"y":0.043,"sub":"q"},{"p":"c","x":255,"y":0.033,"sub":"−q"},
      {"p":"d","x":37,"y":0.0062,"sub":"q"},{"p":"d","x":222,"y":0.0144,"sub":"−q"},
      {"p":"e","x":52,"y":0.015,"sub":"q"},{"p":"e","x":222,"y":0.0144,"sub":"−q"},
      {"p":"f","x":62,"y":0.0116,"sub":"q"},{"p":"f","x":222,"y":0.0144,"sub":"−q"}
    ],
    "tags": [
      {"p":"a","x":331,"y":0.174,"t":"(a)"},{"p":"a","x":122,"y":0.148,"t":"m = 1"},
      {"p":"b","x":331,"y":0.174,"t":"(b)"},{"p":"b","x":122,"y":0.148,"t":"m = 2"},
      {"p":"c","x":331,"y":0.174,"t":"(c)"},{"p":"c","x":122,"y":0.148,"t":"m = 3"},
      {"p":"d","x":333,"y":0.053,"t":"(d)"},
      {"p":"e","x":333,"y":0.053,"t":"(e)"},
      {"p":"f","x":333,"y":0.053,"t":"(f)"}
    ]
  },
  "columns": 2,
  "spacing": {"row": 25, "column": 48},
  "concat": [
    {
      "width": 311, "height": 145,
      "title": {"text": "Eₑ = 37 eV", "anchor": "middle", "offset": 6},
      "resolve": {"axis": {"x": "independent", "y": "independent"}},
      "layer": [
        {"data": {"name": "notes"}, "transform": [{"filter": "datum.p == 'a'"}], "mark": {"type": "text", "text": "θ", "align": "right", "baseline": "middle", "fontSize": 18, "fontStyle": "italic"}, "encoding": {"x": {"field": "x", "type": "quantitative", "axis": null}, "y": {"field": "y", "type": "quantitative", "axis": null}}},
        {"data": {"name": "notes"}, "transform": [{"filter": "datum.p == 'a'"}], "mark": {"type": "text", "align": "left", "baseline": "middle", "dy": 5, "fontSize": 13, "fontWeight": "bold"}, "encoding": {"x": {"field": "x", "type": "quantitative", "axis": null}, "y": {"field": "y", "type": "quantitative", "axis": null}, "text": {"field": "sub"}}},
        {"data": {"name": "curves"}, "transform": [{"filter": "datum.p == 'a'"}], "mark": {"type": "line", "interpolate": "monotone", "strokeWidth": 1.8},
          "encoding": {
            "x": {"field": "x", "type": "quantitative", "scale": {"domain": [0, 360], "nice": false}, "axis": {"orient": "bottom", "values": [0,30,60,90,120,150,180,210,240,270,300,330,360], "labelExpr": "datum.value % 60 == 0 ? datum.label : ''", "title": null}},
            "y": {"field": "y", "type": "quantitative", "scale": {"domain": [0, 0.2], "nice": false}, "axis": {"orient": "left", "values": [0,0.05,0.1,0.15,0.2], "format": ".2f", "title": "TDCS (a.u.)", "titlePadding": 8}},
            "color": {"field": "s", "type": "nominal", "scale": {"domain": ["pw","1","6","15","20"], "range": ["#000000","#ff8c00","#119911","#0000ff","#ff0000"]},
              "legend": {"title": null, "orient": "none", "legendX": 233, "legendY": 13, "symbolType": "M-2.77,0L2.77,0", "symbolSize": 300, "symbolStrokeWidth": 2, "labelAlign": "right", "labelOffset": -43.6, "labelFontSize": 17, "labelColor": "black", "rowPadding": 0, "padding": 0, "labelExpr": "datum.label == 'pw' ? 'pw' : 'θₚ = ' + datum.label + '°'"}}
          }},
        {"data": {"name": "arrows"}, "transform": [{"filter": "datum.p == 'a'"}], "mark": {"type": "rule", "color": "#333333", "strokeWidth": 2},
          "encoding": {"x": {"field": "x", "type": "quantitative", "axis": {"orient": "top", "labels": false, "title": null, "domain": false, "values": [0,30,60,90,120,150,180,210,240,270,300,330,360]}}, "y": {"field": "y", "type": "quantitative", "axis": {"orient": "right", "labels": false, "title": null, "domain": false, "values": [0,0.05,0.1,0.15,0.2]}}, "y2": {"datum": 0}}},
        {"data": {"name": "arrows"}, "transform": [{"filter": "datum.p == 'a'"}], "mark": {"type": "point", "shape": "triangle-up", "filled": true, "color": "#333333", "size": 40, "opacity": 1},
          "encoding": {"x": {"field": "x", "type": "quantitative", "axis": null}, "y": {"field": "y", "type": "quantitative", "axis": null}}},
        {"data": {"name": "tags"}, "transform": [{"filter": "datum.p == 'a'"}], "mark": {"type": "text", "fontSize": 17, "align": "center", "baseline": "middle"},
          "encoding": {"x": {"field": "x", "type": "quantitative", "axis": null}, "y": {"field": "y", "type": "quantitative", "axis": null}, "text": {"field": "t"}}}
      ]
    },
    {
      "width": 311, "height": 145,
      "title": {"text": "Eₑ = 74 eV", "anchor": "middle", "offset": 6},
      "resolve": {"axis": {"x": "independent", "y": "independent"}},
      "layer": [
        {"data": {"name": "notes"}, "transform": [{"filter": "datum.p == 'd'"}], "mark": {"type": "text", "text": "θ", "align": "right", "baseline": "middle", "fontSize": 18, "fontStyle": "italic"}, "encoding": {"x": {"field": "x", "type": "quantitative", "axis": null}, "y": {"field": "y", "type": "quantitative", "axis": null}}},
        {"data": {"name": "notes"}, "transform": [{"filter": "datum.p == 'd'"}], "mark": {"type": "text", "align": "left", "baseline": "middle", "dy": 5, "fontSize": 13, "fontWeight": "bold"}, "encoding": {"x": {"field": "x", "type": "quantitative", "axis": null}, "y": {"field": "y", "type": "quantitative", "axis": null}, "text": {"field": "sub"}}},
        {"data": {"name": "curves"}, "transform": [{"filter": "datum.p == 'd'"}], "mark": {"type": "line", "interpolate": "monotone", "strokeWidth": 1.8},
          "encoding": {
            "x": {"field": "x", "type": "quantitative", "scale": {"domain": [0, 360], "nice": false}, "axis": {"orient": "bottom", "values": [0,30,60,90,120,150,180,210,240,270,300,330,360], "labelExpr": "datum.value % 60 == 0 ? datum.label : ''", "title": null}},
            "y": {"field": "y", "type": "quantitative", "scale": {"domain": [0, 0.06], "nice": false}, "axis": {"orient": "left", "values": [0,0.02,0.04,0.06], "format": ".2f", "title": null}},
            "color": {"field": "s", "type": "nominal", "scale": {"domain": ["pw","1","6","15","20"], "range": ["#000000","#ff8c00","#119911","#0000ff","#ff0000"]}, "legend": null}
          }},
        {"data": {"name": "arrows"}, "transform": [{"filter": "datum.p == 'd'"}], "mark": {"type": "rule", "color": "#333333", "strokeWidth": 2},
          "encoding": {"x": {"field": "x", "type": "quantitative", "axis": {"orient": "top", "labels": false, "title": null, "domain": false, "values": [0,30,60,90,120,150,180,210,240,270,300,330,360]}}, "y": {"field": "y", "type": "quantitative", "axis": {"orient": "right", "labels": false, "title": null, "domain": false, "values": [0,0.02,0.04,0.06]}}, "y2": {"datum": 0}}},
        {"data": {"name": "arrows"}, "transform": [{"filter": "datum.p == 'd'"}], "mark": {"type": "point", "shape": "triangle-up", "filled": true, "color": "#333333", "size": 40, "opacity": 1},
          "encoding": {"x": {"field": "x", "type": "quantitative", "axis": null}, "y": {"field": "y", "type": "quantitative", "axis": null}}},
        {"data": {"name": "tags"}, "transform": [{"filter": "datum.p == 'd'"}], "mark": {"type": "text", "fontSize": 17, "align": "center", "baseline": "middle"},
          "encoding": {"x": {"field": "x", "type": "quantitative", "axis": null}, "y": {"field": "y", "type": "quantitative", "axis": null}, "text": {"field": "t"}}}
      ]
    },
    {
      "width": 311, "height": 145,
      "resolve": {"axis": {"x": "independent", "y": "independent"}},
      "layer": [
        {"data": {"name": "notes"}, "transform": [{"filter": "datum.p == 'b'"}], "mark": {"type": "text", "text": "θ", "align": "right", "baseline": "middle", "fontSize": 18, "fontStyle": "italic"}, "encoding": {"x": {"field": "x", "type": "quantitative", "axis": null}, "y": {"field": "y", "type": "quantitative", "axis": null}}},
        {"data": {"name": "notes"}, "transform": [{"filter": "datum.p == 'b'"}], "mark": {"type": "text", "align": "left", "baseline": "middle", "dy": 5, "fontSize": 13, "fontWeight": "bold"}, "encoding": {"x": {"field": "x", "type": "quantitative", "axis": null}, "y": {"field": "y", "type": "quantitative", "axis": null}, "text": {"field": "sub"}}},
        {"data": {"name": "curves"}, "transform": [{"filter": "datum.p == 'b'"}], "mark": {"type": "line", "interpolate": "monotone", "strokeWidth": 1.8},
          "encoding": {
            "x": {"field": "x", "type": "quantitative", "scale": {"domain": [0, 360], "nice": false}, "axis": {"orient": "bottom", "values": [0,30,60,90,120,150,180,210,240,270,300,330,360], "labelExpr": "datum.value % 60 == 0 ? datum.label : ''", "title": null}},
            "y": {"field": "y", "type": "quantitative", "scale": {"domain": [0, 0.2], "nice": false}, "axis": {"orient": "left", "values": [0,0.05,0.1,0.15,0.2], "format": ".2f", "title": "TDCS (a.u.)", "titlePadding": 8}},
            "color": {"field": "s", "type": "nominal", "scale": {"domain": ["pw","1","6","15","20"], "range": ["#000000","#ff8c00","#119911","#0000ff","#ff0000"]}, "legend": null}
          }},
        {"data": {"name": "arrows"}, "transform": [{"filter": "datum.p == 'b'"}], "mark": {"type": "rule", "color": "#333333", "strokeWidth": 2},
          "encoding": {"x": {"field": "x", "type": "quantitative", "axis": {"orient": "top", "labels": false, "title": null, "domain": false, "values": [0,30,60,90,120,150,180,210,240,270,300,330,360]}}, "y": {"field": "y", "type": "quantitative", "axis": {"orient": "right", "labels": false, "title": null, "domain": false, "values": [0,0.05,0.1,0.15,0.2]}}, "y2": {"datum": 0}}},
        {"data": {"name": "arrows"}, "transform": [{"filter": "datum.p == 'b'"}], "mark": {"type": "point", "shape": "triangle-up", "filled": true, "color": "#333333", "size": 40, "opacity": 1},
          "encoding": {"x": {"field": "x", "type": "quantitative", "axis": null}, "y": {"field": "y", "type": "quantitative", "axis": null}}},
        {"data": {"name": "tags"}, "transform": [{"filter": "datum.p == 'b'"}], "mark": {"type": "text", "fontSize": 17, "align": "center", "baseline": "middle"},
          "encoding": {"x": {"field": "x", "type": "quantitative", "axis": null}, "y": {"field": "y", "type": "quantitative", "axis": null}, "text": {"field": "t"}}}
      ]
    },
    {
      "width": 311, "height": 145,
      "resolve": {"axis": {"x": "independent", "y": "independent"}},
      "layer": [
        {"data": {"name": "notes"}, "transform": [{"filter": "datum.p == 'e'"}], "mark": {"type": "text", "text": "θ", "align": "right", "baseline": "middle", "fontSize": 18, "fontStyle": "italic"}, "encoding": {"x": {"field": "x", "type": "quantitative", "axis": null}, "y": {"field": "y", "type": "quantitative", "axis": null}}},
        {"data": {"name": "notes"}, "transform": [{"filter": "datum.p == 'e'"}], "mark": {"type": "text", "align": "left", "baseline": "middle", "dy": 5, "fontSize": 13, "fontWeight": "bold"}, "encoding": {"x": {"field": "x", "type": "quantitative", "axis": null}, "y": {"field": "y", "type": "quantitative", "axis": null}, "text": {"field": "sub"}}},
        {"data": {"name": "curves"}, "transform": [{"filter": "datum.p == 'e'"}], "mark": {"type": "line", "interpolate": "monotone", "strokeWidth": 1.8},
          "encoding": {
            "x": {"field": "x", "type": "quantitative", "scale": {"domain": [0, 360], "nice": false}, "axis": {"orient": "bottom", "values": [0,30,60,90,120,150,180,210,240,270,300,330,360], "labelExpr": "datum.value % 60 == 0 ? datum.label : ''", "title": null}},
            "y": {"field": "y", "type": "quantitative", "scale": {"domain": [0, 0.06], "nice": false}, "axis": {"orient": "left", "values": [0,0.02,0.04,0.06], "format": ".2f", "title": null}},
            "color": {"field": "s", "type": "nominal", "scale": {"domain": ["pw","1","6","15","20"], "range": ["#000000","#ff8c00","#119911","#0000ff","#ff0000"]}, "legend": null}
          }},
        {"data": {"name": "arrows"}, "transform": [{"filter": "datum.p == 'e'"}], "mark": {"type": "rule", "color": "#333333", "strokeWidth": 2},
          "encoding": {"x": {"field": "x", "type": "quantitative", "axis": {"orient": "top", "labels": false, "title": null, "domain": false, "values": [0,30,60,90,120,150,180,210,240,270,300,330,360]}}, "y": {"field": "y", "type": "quantitative", "axis": {"orient": "right", "labels": false, "title": null, "domain": false, "values": [0,0.02,0.04,0.06]}}, "y2": {"datum": 0}}},
        {"data": {"name": "arrows"}, "transform": [{"filter": "datum.p == 'e'"}], "mark": {"type": "point", "shape": "triangle-up", "filled": true, "color": "#333333", "size": 40, "opacity": 1},
          "encoding": {"x": {"field": "x", "type": "quantitative", "axis": null}, "y": {"field": "y", "type": "quantitative", "axis": null}}},
        {"data": {"name": "tags"}, "transform": [{"filter": "datum.p == 'e'"}], "mark": {"type": "text", "fontSize": 17, "align": "center", "baseline": "middle"},
          "encoding": {"x": {"field": "x", "type": "quantitative", "axis": null}, "y": {"field": "y", "type": "quantitative", "axis": null}, "text": {"field": "t"}}}
      ]
    },
    {
      "width": 311, "height": 145,
      "resolve": {"axis": {"x": "independent", "y": "independent"}},
      "layer": [
        {"data": {"name": "notes"}, "transform": [{"filter": "datum.p == 'c'"}], "mark": {"type": "text", "text": "θ", "align": "right", "baseline": "middle", "fontSize": 18, "fontStyle": "italic"}, "encoding": {"x": {"field": "x", "type": "quantitative", "axis": null}, "y": {"field": "y", "type": "quantitative", "axis": null}}},
        {"data": {"name": "notes"}, "transform": [{"filter": "datum.p == 'c'"}], "mark": {"type": "text", "align": "left", "baseline": "middle", "dy": 5, "fontSize": 13, "fontWeight": "bold"}, "encoding": {"x": {"field": "x", "type": "quantitative", "axis": null}, "y": {"field": "y", "type": "quantitative", "axis": null}, "text": {"field": "sub"}}},
        {"data": {"name": "curves"}, "transform": [{"filter": "datum.p == 'c'"}], "mark": {"type": "line", "interpolate": "monotone", "strokeWidth": 1.8},
          "encoding": {
            "x": {"field": "x", "type": "quantitative", "scale": {"domain": [0, 360], "nice": false}, "axis": {"orient": "bottom", "values": [0,30,60,90,120,150,180,210,240,270,300,330,360], "labelExpr": "datum.value % 60 == 0 ? datum.label : ''", "title": "θₑ (degrees)", "titlePadding": 10}},
            "y": {"field": "y", "type": "quantitative", "scale": {"domain": [0, 0.2], "nice": false}, "axis": {"orient": "left", "values": [0,0.05,0.1,0.15,0.2], "format": ".2f", "title": "TDCS (a.u.)", "titlePadding": 8}},
            "color": {"field": "s", "type": "nominal", "scale": {"domain": ["pw","1","6","15","20"], "range": ["#000000","#ff8c00","#119911","#0000ff","#ff0000"]}, "legend": null}
          }},
        {"data": {"name": "arrows"}, "transform": [{"filter": "datum.p == 'c'"}], "mark": {"type": "rule", "color": "#333333", "strokeWidth": 2},
          "encoding": {"x": {"field": "x", "type": "quantitative", "axis": {"orient": "top", "labels": false, "title": null, "domain": false, "values": [0,30,60,90,120,150,180,210,240,270,300,330,360]}}, "y": {"field": "y", "type": "quantitative", "axis": {"orient": "right", "labels": false, "title": null, "domain": false, "values": [0,0.05,0.1,0.15,0.2]}}, "y2": {"datum": 0}}},
        {"data": {"name": "arrows"}, "transform": [{"filter": "datum.p == 'c'"}], "mark": {"type": "point", "shape": "triangle-up", "filled": true, "color": "#333333", "size": 40, "opacity": 1},
          "encoding": {"x": {"field": "x", "type": "quantitative", "axis": null}, "y": {"field": "y", "type": "quantitative", "axis": null}}},
        {"data": {"name": "tags"}, "transform": [{"filter": "datum.p == 'c'"}], "mark": {"type": "text", "fontSize": 17, "align": "center", "baseline": "middle"},
          "encoding": {"x": {"field": "x", "type": "quantitative", "axis": null}, "y": {"field": "y", "type": "quantitative", "axis": null}, "text": {"field": "t"}}}
      ]
    },
    {
      "width": 311, "height": 145,
      "resolve": {"axis": {"x": "independent", "y": "independent"}},
      "layer": [
        {"data": {"name": "notes"}, "transform": [{"filter": "datum.p == 'f'"}], "mark": {"type": "text", "text": "θ", "align": "right", "baseline": "middle", "fontSize": 18, "fontStyle": "italic"}, "encoding": {"x": {"field": "x", "type": "quantitative", "axis": null}, "y": {"field": "y", "type": "quantitative", "axis": null}}},
        {"data": {"name": "notes"}, "transform": [{"filter": "datum.p == 'f'"}], "mark": {"type": "text", "align": "left", "baseline": "middle", "dy": 5, "fontSize": 13, "fontWeight": "bold"}, "encoding": {"x": {"field": "x", "type": "quantitative", "axis": null}, "y": {"field": "y", "type": "quantitative", "axis": null}, "text": {"field": "sub"}}},
        {"data": {"name": "curves"}, "transform": [{"filter": "datum.p == 'f'"}], "mark": {"type": "line", "interpolate": "monotone", "strokeWidth": 1.8},
          "encoding": {
            "x": {"field": "x", "type": "quantitative", "scale": {"domain": [0, 360], "nice": false}, "axis": {"orient": "bottom", "values": [0,30,60,90,120,150,180,210,240,270,300,330,360], "labelExpr": "datum.value % 60 == 0 ? datum.label : ''", "title": "θₑ (degrees)", "titlePadding": 10}},
            "y": {"field": "y", "type": "quantitative", "scale": {"domain": [0, 0.06], "nice": false}, "axis": {"orient": "left", "values": [0,0.02,0.04,0.06], "format": ".2f", "title": null}},
            "color": {"field": "s", "type": "nominal", "scale": {"domain": ["pw","1","6","15","20"], "range": ["#000000","#ff8c00","#119911","#0000ff","#ff0000"]}, "legend": null}
          }},
        {"data": {"name": "arrows"}, "transform": [{"filter": "datum.p == 'f'"}], "mark": {"type": "rule", "color": "#333333", "strokeWidth": 2},
          "encoding": {"x": {"field": "x", "type": "quantitative", "axis": {"orient": "top", "labels": false, "title": null, "domain": false, "values": [0,30,60,90,120,150,180,210,240,270,300,330,360]}}, "y": {"field": "y", "type": "quantitative", "axis": {"orient": "right", "labels": false, "title": null, "domain": false, "values": [0,0.02,0.04,0.06]}}, "y2": {"datum": 0}}},
        {"data": {"name": "arrows"}, "transform": [{"filter": "datum.p == 'f'"}], "mark": {"type": "point", "shape": "triangle-up", "filled": true, "color": "#333333", "size": 40, "opacity": 1},
          "encoding": {"x": {"field": "x", "type": "quantitative", "axis": null}, "y": {"field": "y", "type": "quantitative", "axis": null}}},
        {"data": {"name": "tags"}, "transform": [{"filter": "datum.p == 'f'"}], "mark": {"type": "text", "fontSize": 17, "align": "center", "baseline": "middle"},
          "encoding": {"x": {"field": "x", "type": "quantitative", "axis": null}, "y": {"field": "y", "type": "quantitative", "axis": null}, "text": {"field": "t"}}}
      ]
    }
  ]
}
